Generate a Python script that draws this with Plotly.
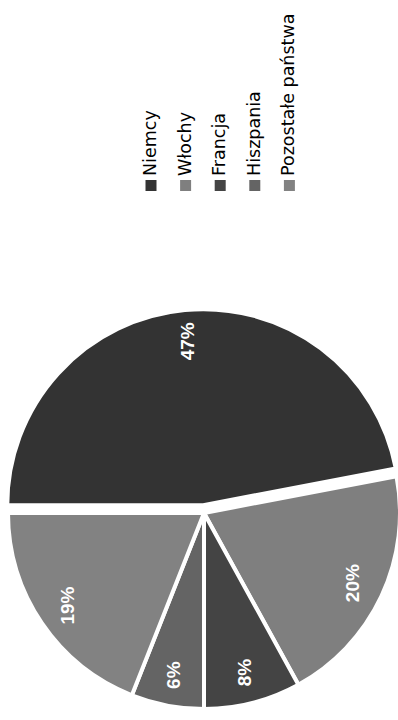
import plotly.graph_objects as go

# Export share by destination country
labels = ["Niemcy", "Włochy", "Francja", "Hiszpania", "Pozostałe państwa"]
values = [47, 20, 8, 6, 19]
colors = ["#333333", "#7f7f7f", "#444444", "#646464", "#828282"]
pulls = [0.04, 0, 0, 0, 0]

# Canvas is laid out landscape and turned a quarter turn on the page
W, H = 720, 410
cx, cy, R = 207, 204, 196          # pie centre / radius in px (cy measured from top)
half = R * (1 + max(pulls))
dom_x = [(cx - half) / W, (cx + half) / W]
dom_y = [1 - (cy + half) / H, 1 - (cy - half) / H]

fig = go.Figure()

fig.add_trace(go.Pie(
    labels=labels, values=values, sort=False, direction="clockwise", rotation=0,
    pull=pulls,
    marker=dict(colors=colors, line=dict(color="white", width=4)),
    textinfo="none", showlegend=False, hoverinfo="label+percent",
    domain=dict(x=dom_x, y=dom_y),
))

# Transparent ring carrying the percentage labels, so they sit near the rim
fig.add_trace(go.Pie(
    labels=labels, values=values, sort=False, direction="clockwise", rotation=0,
    pull=pulls, hole=0.68,
    marker=dict(colors=["rgba(0,0,0,0)"] * len(values), line=dict(width=0)),
    textinfo="percent", textposition="inside", insidetextorientation="horizontal",
    textfont=dict(family="Liberation Sans, Arial", size=19, color="white", weight="bold"),
    showlegend=False, hoverinfo="skip",
    domain=dict(x=dom_x, y=dom_y),
))

# Legend: colour squares with labels
leg_x0, leg_y0, leg_dy, sq = 529, 151, 34.6, 11
for i, (lab, col) in enumerate(zip(labels, colors)):
    yc = leg_y0 + i * leg_dy
    fig.add_shape(type="rect", xref="paper", yref="paper",
                  x0=leg_x0 / W, x1=(leg_x0 + sq) / W,
                  y0=1 - (yc + sq / 2) / H, y1=1 - (yc - sq / 2) / H,
                  fillcolor=col, line_width=0)
    fig.add_annotation(xref="paper", yref="paper",
                       x=(leg_x0 + sq + 2) / W, y=1 - (yc - 1) / H,
                       text=lab, showarrow=False, xanchor="left", yanchor="middle",
                       font=dict(family="DejaVu Sans", size=17.5, color="#000000"))

fig.update_layout(
    width=W, height=H,
    margin=dict(l=0, r=0, t=0, b=0),
    paper_bgcolor="white", plot_bgcolor="white",
)

rotate_js = """
var gd = document.getElementById('{plot_id}');
document.documentElement.style.overflow = 'hidden';
document.body.style.margin = '0';
document.body.style.overflow = 'hidden';
gd.style.position = 'absolute';
gd.style.left = '0px';
gd.style.top = '0px';
gd.style.transformOrigin = '0 0';
gd.style.transform = 'translate(0px, 720px) rotate(-90deg)';
"""

fig.write_html("out.html", post_script=rotate_js,
               config={"responsive": False, "displayModeBar": False})
